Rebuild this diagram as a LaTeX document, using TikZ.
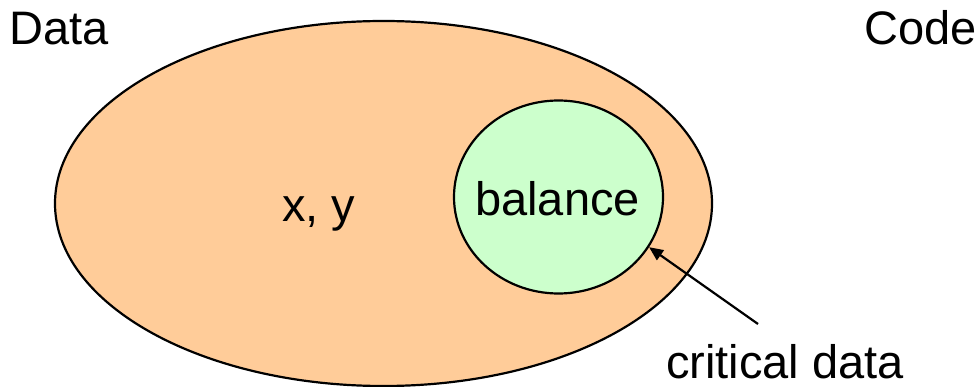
\documentclass[tikz,border=0pt]{standalone}
\usepackage{fontspec}
\setmainfont{Liberation Sans}
\usetikzlibrary{shapes.geometric,arrows.meta}
\definecolor{orangefill}{HTML}{FFCC99}
\definecolor{greenfill}{HTML}{CCFFCC}
\begin{document}
\begin{tikzpicture}[x=1pt,y=-1pt,
  lbl/.style={font=\fontsize{47}{56}\selectfont, inner sep=0pt, text=black},
  blob/.style={ellipse, draw=black, line width=2.2pt, inner sep=0pt}]
\useasboundingbox (0,0) rectangle (976,387);
\node[blob, fill=orangefill, minimum width=657pt, minimum height=365pt] (data) at (383.5,203.5) {};
\node[blob, fill=greenfill, minimum width=209pt, minimum height=193pt] (crit) at (558.5,197) {};
\node[lbl, anchor=base west] (dlabel) at (9,45) {Data};
\node[lbl, anchor=base west] (clabel) at (864,45) {Code};
\node[lbl, anchor=base west] (xy) at (282,222) {x, y};
\node[lbl, anchor=base west] (bal) at (475,215) {balance};
\node[lbl, anchor=base west] (cd) at (666,378) {critical data};
\coordinate (tail) at (758,324);
\draw[line width=2.2pt, -{Triangle[length=14pt,width=12pt]}] (tail) -- (crit.-29);
\end{tikzpicture}
\end{document}
